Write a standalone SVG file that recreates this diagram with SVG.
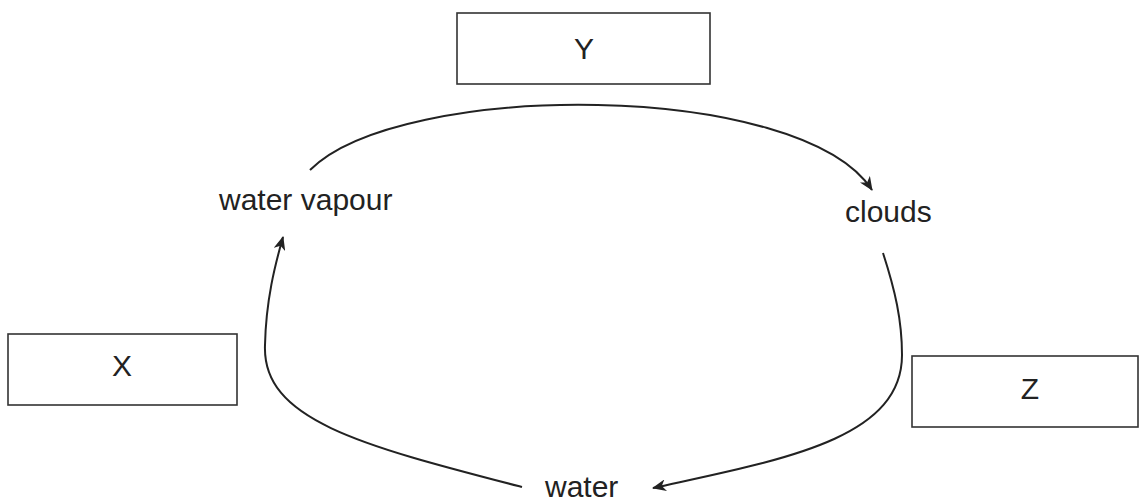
<svg xmlns="http://www.w3.org/2000/svg" width="1140" height="501" viewBox="0 0 1140 501">
<style>
.box{fill:#fff;stroke:#333;stroke-width:1.6}
.lbl{font-family:"Liberation Sans",Arial,sans-serif;font-size:30px;fill:#222}
.mid{text-anchor:middle}
.conn{fill:none;stroke:#222;stroke-width:2}
</style>
<defs>
<marker id="arr" markerWidth="14" markerHeight="12" refX="13" refY="6" orient="auto" markerUnits="userSpaceOnUse">
<path d="M0,0 L14,6 L0,12 L4,6 Z" fill="#222"/>
</marker>
</defs>
<rect width="1140" height="501" fill="#fff"/>
<g id="connectors">
<path class="conn" d="M310,170 C400,80 800,80 872,190" marker-end="url(#arr)"/>
<path class="conn" d="M883,253 C895,290 902,320 902,355 C902,440 780,460 653,488" marker-end="url(#arr)"/>
<path class="conn" d="M522,487 C360,445 262,420 265,345 C266,300 275,265 283,237" marker-end="url(#arr)"/>
</g>
<g id="box-Y"><rect class="box" x="457" y="13" width="253" height="71"/><text class="lbl mid" x="584" y="59">Y</text></g>
<g id="box-X"><rect class="box" x="8" y="334" width="229" height="71"/><text class="lbl mid" x="122" y="376">X</text></g>
<g id="box-Z"><rect class="box" x="912" y="356" width="226" height="71"/><text class="lbl mid" x="1030" y="399">Z</text></g>
<g id="node-water-vapour"><text class="lbl" x="219" y="210">water vapour</text></g>
<g id="node-clouds"><text class="lbl" x="845" y="222">clouds</text></g>
<g id="node-water"><text class="lbl" x="545" y="497">water</text></g>
</svg>
